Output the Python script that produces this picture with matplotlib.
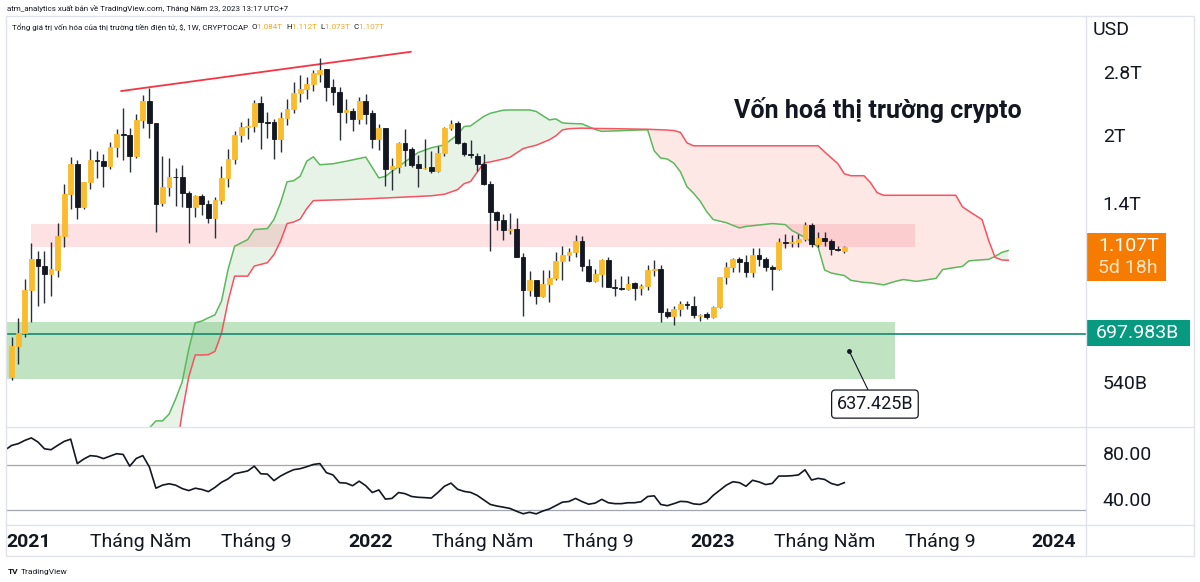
import numpy as np
import pandas as pd
import matplotlib
matplotlib.use('Agg')
import matplotlib.pyplot as plt
import matplotlib.dates as mdates
from matplotlib.patches import Rectangle
from matplotlib.lines import Line2D
from matplotlib.ticker import NullLocator, FixedLocator

plt.rcParams['font.family'] = ['Roboto', 'DejaVu Sans']

# ---------------- data (values in trillion USD) ----------------
first_week = '2020-12-14'
opens = [0.554,0.653,0.699,0.878,1.035,0.997,0.956,0.977,1.169,1.467,
         1.720,1.369,1.563,1.757,1.748,1.702,1.882,2.016,2.006,1.794,
         2.171,2.401,2.137,1.395,1.523,1.606,1.606,1.475,1.369,1.452,
         1.392,1.292,1.422,1.597,1.766,2.006,2.093,2.104,2.376,2.148,
         2.148,1.964,2.195,2.302,2.505,2.558,2.628,2.775,2.840,2.585,
         2.518,2.265,2.277,2.183,2.401,2.253,1.964,2.082,1.675,1.693,
         1.922,1.862,1.720,1.680,1.688,1.657,1.823,2.082,2.137,1.922,
         1.813,1.794,1.720,1.547,1.334,1.279,1.207,1.219,1.051,0.878,
         0.926,0.851,0.906,0.936,1.024,1.060,1.074,1.144,1.000,0.921,
         0.960,1.030,0.896,0.890,0.883,0.911,0.887,0.901,0.976,0.986,
         0.781,0.765,0.794,0.815,0.806,0.767,0.773,0.761,0.802,0.941,
         0.992,1.035,1.019,0.966,1.062,1.035,0.992,0.981,1.138,1.132,
         1.138,1.156,1.245,1.126,1.162,1.144,1.095,1.084]
highs = [0.685,0.757,0.931,1.132,1.085,1.085,1.138,1.259,1.547,1.785,
         1.757,1.565,1.862,1.842,1.813,1.932,2.071,2.314,2.082,2.241,
         2.479,2.572,2.140,1.794,1.775,1.684,1.711,1.491,1.460,1.467,
         1.422,1.444,1.702,1.862,2.048,2.148,2.195,2.414,2.466,2.265,
         2.183,2.265,2.427,2.656,2.756,2.727,2.830,3.016,2.845,2.698,
         2.585,2.427,2.314,2.453,2.492,2.289,2.126,2.085,1.775,1.932,
         2.071,1.882,1.804,1.964,1.842,1.892,2.093,2.171,2.160,1.932,
         1.953,1.823,1.813,1.572,1.341,1.320,1.327,1.292,1.068,0.971,
         0.928,0.976,0.976,1.079,1.114,1.097,1.181,1.175,1.035,0.986,
         1.035,1.051,0.931,0.946,0.946,0.916,0.906,1.003,1.030,1.003,
         0.798,0.806,0.828,0.828,0.851,0.773,0.781,0.806,0.943,1.019,
         1.040,1.051,1.062,1.102,1.102,1.051,1.003,1.162,1.187,1.181,
         1.187,1.265,1.259,1.194,1.194,1.156,1.114,1.112]
lows = [0.545,0.593,0.685,0.741,0.806,0.819,0.851,0.941,1.108,1.355,
        1.285,1.355,1.507,1.597,1.523,1.675,1.785,1.757,1.648,1.775,
        2.082,1.974,1.194,1.377,1.452,1.377,1.369,1.132,1.299,1.313,
        1.259,1.162,1.392,1.523,1.720,1.932,1.964,2.037,1.862,1.974,
        1.766,1.832,2.115,2.253,2.388,2.427,2.532,2.656,2.401,2.351,
        1.953,2.137,2.048,2.126,2.126,1.872,1.852,1.531,1.499,1.640,
        1.702,1.693,1.523,1.675,1.640,1.648,1.794,2.059,1.915,1.794,
        1.775,1.657,1.539,1.085,1.207,1.150,1.187,1.049,0.765,0.851,
        0.815,0.849,0.824,0.926,0.926,1.024,1.051,0.971,0.919,0.919,
        0.896,0.894,0.851,0.878,0.878,0.833,0.856,0.878,0.946,0.741,
        0.757,0.729,0.765,0.794,0.757,0.745,0.753,0.757,0.798,0.906,
        0.966,0.966,0.941,0.941,0.997,0.971,0.878,0.979,1.097,1.108,
        1.108,1.144,1.108,1.108,1.114,1.057,1.080,1.073]
closes = [0.653,0.699,0.878,1.035,0.997,0.956,0.981,1.169,1.467,1.720,
          1.369,1.563,1.757,1.748,1.702,1.882,2.016,2.006,1.794,2.171,
          2.401,2.137,1.392,1.523,1.606,1.600,1.475,1.369,1.452,1.392,
          1.292,1.422,1.597,1.766,2.006,2.093,2.104,2.376,2.148,2.137,
          1.964,2.195,2.302,2.505,2.558,2.628,2.785,2.830,2.585,2.518,
          2.265,2.289,2.183,2.401,2.241,1.964,2.082,1.675,1.702,1.922,
          1.852,1.711,1.684,1.686,1.657,1.823,2.082,2.126,1.922,1.813,
          1.804,1.720,1.547,1.334,1.279,1.207,1.219,1.051,0.878,0.926,
          0.851,0.906,0.936,1.024,1.062,1.074,1.144,0.997,0.921,0.960,
          1.030,0.896,0.887,0.883,0.906,0.887,0.901,0.976,0.986,0.781,
          0.765,0.794,0.815,0.811,0.769,0.771,0.761,0.802,0.941,0.992,
          1.035,1.019,0.966,1.062,1.035,0.992,0.981,1.138,1.132,1.138,
          1.156,1.245,1.126,1.162,1.144,1.091,1.086,1.107]

# Ichimoku leading spans (week offset from first_week, displaced forward)
cloud_week = [20,21,22,23,24,25,26,27,28,29,30,31,32,33,34,35,36,37,38,39,
              40,41,42,43,44,45,46,47,49,51,54,56,57,59,62,64,66,68,69,70,
              72,73,75,76,78,79,80,82,83,84,85,87,89,90,92,96,97,98,99,100,
              101,102,103,104,105,106,107,109,111,112,116,118,119,120,121,122,123,124,125,126,
              127,128,130,131,132,133,135,136,138,141,142,144,145,146,148,149,150,151,152]
span_a = [0.400,0.423,0.439,0.439,0.455,0.493,0.540,0.642,0.739,0.746,
          0.759,0.771,0.829,0.981,1.110,1.130,1.150,1.213,1.216,1.219,
          1.279,1.397,1.563,1.572,1.610,1.743,1.785,1.711,1.720,1.743,
          1.782,1.595,1.609,1.696,1.826,1.872,1.902,2.006,2.096,2.104,
          2.212,2.249,2.287,2.289,2.289,2.289,2.271,2.171,2.183,2.137,
          2.131,2.126,2.064,2.043,2.048,2.059,2.059,1.842,1.773,1.764,
          1.725,1.648,1.523,1.471,1.411,1.334,1.279,1.258,1.223,1.233,
          1.252,1.245,1.207,1.185,1.162,1.135,1.105,0.978,0.963,0.956,
          0.950,0.926,0.916,0.914,0.909,0.904,0.923,0.930,0.921,0.936,
          0.981,0.992,0.997,1.027,1.033,1.035,1.052,1.074,1.085]
span_b = [0.250,0.260,0.270,0.285,0.300,0.365,0.458,0.554,0.623,0.623,
          0.624,0.635,0.699,0.828,0.947,0.947,0.947,0.999,1.008,1.017,
          1.062,1.140,1.252,1.262,1.282,1.355,1.414,1.416,1.419,1.422,
          1.427,1.432,1.434,1.439,1.446,1.451,1.463,1.499,1.547,1.566,
          1.727,1.737,1.764,1.780,1.864,1.882,1.898,1.953,1.995,2.059,
          2.072,2.078,2.075,2.074,2.072,2.067,2.066,2.063,2.060,2.057,
          2.052,2.032,1.922,1.892,1.892,1.892,1.892,1.892,1.892,1.892,
          1.892,1.892,1.892,1.892,1.892,1.892,1.892,1.832,1.775,1.722,
          1.631,1.614,1.614,1.555,1.475,1.455,1.455,1.455,1.455,1.455,
          1.455,1.455,1.369,1.337,1.279,1.146,1.046,1.032,1.030]

# weekly RSI (starting one week before first_week)
rsi_first_week = '2020-12-07'
rsi = [83, 87, 88.5, 91.4, 93.6, 90, 84, 83.2, 87, 90.5, 92.5, 71, 75, 78, 77.4,
       75.4, 77.5, 79.7, 79, 68.7, 75.5, 78, 68, 49.3, 52, 53.2, 52, 49, 47.2,
       49.3, 48.2, 46.3, 50, 54.5, 57.5, 62, 63.3, 64.5, 68.7, 62, 61.7, 56, 60,
       63, 65.6, 66.5, 68.2, 70.2, 71, 63, 61, 54.2, 53.8, 51.5, 55.5, 51.5, 45.5,
       47.8, 39.7, 40.3, 45.5, 44.5, 42, 41.3, 41, 40.6, 45.5, 51, 53.8, 48.4,
       46.5, 45.6, 43, 39, 35, 33.6, 32.6, 31.5, 29, 26.8, 28.1, 26.7, 29.2, 31,
       34, 37, 37.6, 40.3, 37.5, 35.2, 36.2, 39.5, 36.5, 35.7, 35.7, 36.5, 36.5,
       37.4, 42, 42.6, 35, 33.9, 35.7, 37.7, 37.4, 35.5, 35, 37.2, 43, 47.5, 52,
       55, 54.2, 51, 56.3, 54.8, 52.5, 53.5, 60, 60, 60.3, 61, 65.5, 56.5, 58, 57,
       53.5, 51.9, 54.2]
rsi_bands = [70, 30]

# drawings
trend_dates = ['2021-04-10', '2022-02-13']
trend_values = [2.531, 3.117]
resist_dates = ['2021-01-04', '2023-08-05']
resist_zone = [1.108, 1.252]
support_dates = ['2020-11-01', '2023-07-15']
support_zone = [0.548, 0.741]
hline_value = 0.697983
hline_label = '697.983B'
note_date, note_value, note_text = '2023-05-27', 0.637425, '637.425B'
note_box_date, note_box_value = '2023-06-23 16:00', 0.480
last_label, last_timer = '1.107T', '5d 18h'

price_ticks = [2.8, 2.0, 1.4, 0.54]
price_labels = ['2.8T', '2T', '1.4T', '540B']
rsi_ticks = [80, 40]
rsi_labels = ['80.00', '40.00']
time_ticks = ['2021-01-01', '2021-05-01', '2021-09-01', '2022-01-01', '2022-05-01',
              '2022-09-01', '2023-01-01', '2023-05-01', '2023-09-01', '2024-01-01']
time_labels = ['2021', 'Tháng Năm', 'Tháng 9', '2022', 'Tháng Năm', 'Tháng 9',
               '2023', 'Tháng Năm', 'Tháng 9', '2024']

title = 'Vốn hoá thị trường crypto'
header1 = 'atm_analytics xuất bản về TradingView.com, Tháng Năm 23, 2023 13:17 UTC+7'
legend_name = 'Tổng giá trị vốn hóa của thị trường tiền điện tử, $, 1W, CRYPTOCAP  '
legend_ohlc = [('O', '1.084T'), ('H', '1.112T'), ('L', '1.073T'), ('C', '1.107T')]

# ---------------- figure ----------------
W, H = 1200, 582
fig = plt.figure(figsize=(W / 100, H / 100), dpi=100)
fig.patch.set_facecolor('white')

def fx(v):
    return v / W

def fy(v):
    return 1 - v / H

TXT = '#131722'
FRAME = '#e0e3eb'
ORANGE = '#f9bc2c'
BLACK = '#131722'

x0 = mdates.date2num(pd.Timestamp(first_week))
px_per_day = 0.9366
xlim = (x0 + (6 - 11.7) / px_per_day, x0 + (1086 - 11.7) / px_per_day)

ax = fig.add_axes([fx(6), fy(427), fx(1086) - fx(6), fy(16) - fy(427)])
ax.set_yscale('log')
ax.set_ylim(0.425, 3.77)
ax.set_xlim(*xlim)
for s in ax.spines.values():
    s.set_visible(False)
ax.set_xticks([])
ax.yaxis.set_minor_locator(NullLocator())
ax.yaxis.set_major_locator(FixedLocator(price_ticks))
ax.set_yticklabels(price_labels)
ax.yaxis.tick_right()
ax.tick_params(axis='y', length=0, pad=12, labelsize=14, labelcolor=TXT)

dates = pd.date_range(first_week, periods=len(opens), freq='7D')
xd = mdates.date2num(dates)
o = np.array(opens); h = np.array(highs); l = np.array(lows); c = np.array(closes)
up = c >= o
cols = np.where(up, ORANGE, BLACK)
lo = np.minimum(o, c); hi = np.maximum(o, c)

# cloud
cx = x0 + 7 * np.array(cloud_week)
sa = np.array(span_a); sb = np.array(span_b)
ax.fill_between(cx, sa, sb, where=sa >= sb, interpolate=True, color='#43a047', alpha=0.12, lw=0, zorder=1)
ax.fill_between(cx, sa, sb, where=sa < sb, interpolate=True, color='#f44336', alpha=0.12, lw=0, zorder=1)

# zones
rd = mdates.date2num(pd.to_datetime(resist_dates))
ax.fill_between(rd, [resist_zone[0]] * 2, [resist_zone[1]] * 2, color='#f23645', alpha=0.15, lw=0, zorder=2)
sd = mdates.date2num(pd.to_datetime(support_dates))
ax.fill_between(sd, [support_zone[0]] * 2, [support_zone[1]] * 2, color='#4caf50', alpha=0.35, lw=0, zorder=2)

ax.plot(cx, sa, color='#5cb85c', lw=1.1, zorder=3)
ax.plot(cx, sb, color='#f7525f', lw=1.1, zorder=3)

ax.axhline(hline_value, color='#138a72', lw=1.2, zorder=3)

td = mdates.date2num(pd.to_datetime(trend_dates))
ax.plot(td, trend_values, color='#f23645', lw=1.3, zorder=3)

# candles
ax.vlines(xd, l, h, color='#2a2e39', lw=1.0, zorder=4)
ax.bar(xd, hi - lo, bottom=lo, width=5.1, color=cols, edgecolor=cols, linewidth=0.6, zorder=5)

# annotation
nd = mdates.date2num(pd.Timestamp(note_date))
nbd = mdates.date2num(pd.Timestamp(note_box_date))
ax.plot([nd], [note_value], marker='o', ms=2.5, color=TXT, zorder=6)
ax.annotate(note_text, xy=(nd, note_value), xytext=(nbd, note_box_value),
            ha='center', va='center', fontsize=13, color=TXT, zorder=7,
            bbox=dict(boxstyle='round,pad=0.28,rounding_size=0.2', fc='white', ec=TXT, lw=0.9),
            arrowprops=dict(arrowstyle='-', color=TXT, lw=0.8, shrinkA=0, shrinkB=0))

# RSI pane
ax2 = fig.add_axes([fx(6), fy(525), fx(1086) - fx(6), fy(427) - fy(525)])
ax2.set_xlim(*xlim)
ax2.set_ylim(16.9, 103.2)
for s in ax2.spines.values():
    s.set_visible(False)
rdates = mdates.date2num(pd.date_range(rsi_first_week, periods=len(rsi), freq='7D'))
for b in rsi_bands:
    ax2.axhline(b, color='#a3a6af', lw=0.9, zorder=1)
ax2.plot(rdates, rsi, color=TXT, lw=1.2, zorder=2)
ax2.yaxis.set_major_locator(FixedLocator(rsi_ticks))
ax2.set_yticklabels(rsi_labels)
ax2.yaxis.tick_right()
ax2.tick_params(axis='y', length=0, pad=12, labelsize=14, labelcolor=TXT)
ax2.xaxis.set_major_locator(FixedLocator(mdates.date2num(pd.to_datetime(time_ticks))))
ax2.set_xticklabels(time_labels)
ax2.tick_params(axis='x', length=0, pad=6, labelsize=14, labelcolor=TXT)
for t in ax2.get_xticklabels():
    if t.get_text().isdigit():
        t.set_fontweight('bold')

# frame lines
fig.add_artist(Rectangle((fx(6), fy(556)), fx(1194) - fx(6), fy(16) - fy(556),
                         transform=fig.transFigure, fill=False, ec=FRAME, lw=1))
for yy in (427, 525):
    fig.add_artist(Line2D([fx(6), fx(1194)], [fy(yy), fy(yy)], transform=fig.transFigure, color=FRAME, lw=1))
fig.add_artist(Line2D([fx(1086), fx(1086)], [fy(16), fy(556)], transform=fig.transFigure, color=FRAME, lw=1))

# price-scale labels
fig.text(fx(1093), fy(30), 'USD', fontsize=14, color=TXT, ha='left', va='center')
fig.add_artist(Rectangle((fx(1086), fy(281)), fx(1166) - fx(1086), fy(233) - fy(281),
                         transform=fig.transFigure, fc='#f57c00', ec='none'))
fig.text(fx(1098), fy(246), last_label, fontsize=14, color='white', ha='left', va='center')
fig.text(fx(1098), fy(268), last_timer, fontsize=14, color='#fde3c4', ha='left', va='center')
fig.add_artist(Rectangle((fx(1086), fy(346)), fx(1190) - fx(1086), fy(320) - fy(346),
                         transform=fig.transFigure, fc='#089981', ec='none'))
fig.text(fx(1096), fy(333), hline_label, fontsize=14, color='white', ha='left', va='center')

# title and header texts
fig.text(fx(878), fy(110), title, fontsize=18, fontweight='bold', color=TXT, ha='center', va='center')
fig.text(fx(7), fy(8), header1, fontsize=5.8, color=TXT, ha='left', va='center')

renderer = fig.canvas.get_renderer()
xx = 11.5
segments = [(legend_name, TXT)]
for k, v in legend_ohlc:
    segments.append((k, TXT))
    segments.append((v + '  ', '#f5a623'))
for s, col in segments:
    t = fig.text(fx(xx), fy(27), s, fontsize=5.8, color=col, ha='left', va='center')
    xx += t.get_window_extent(renderer=renderer).width

fig.text(fx(8), fy(572), 'TV', fontsize=6, fontweight='bold', color=TXT, ha='left', va='center')
fig.text(fx(21), fy(572), 'TradingView', fontsize=6, color=TXT, ha='left', va='center')

fig.savefig('out.png', dpi=100, facecolor='white')
